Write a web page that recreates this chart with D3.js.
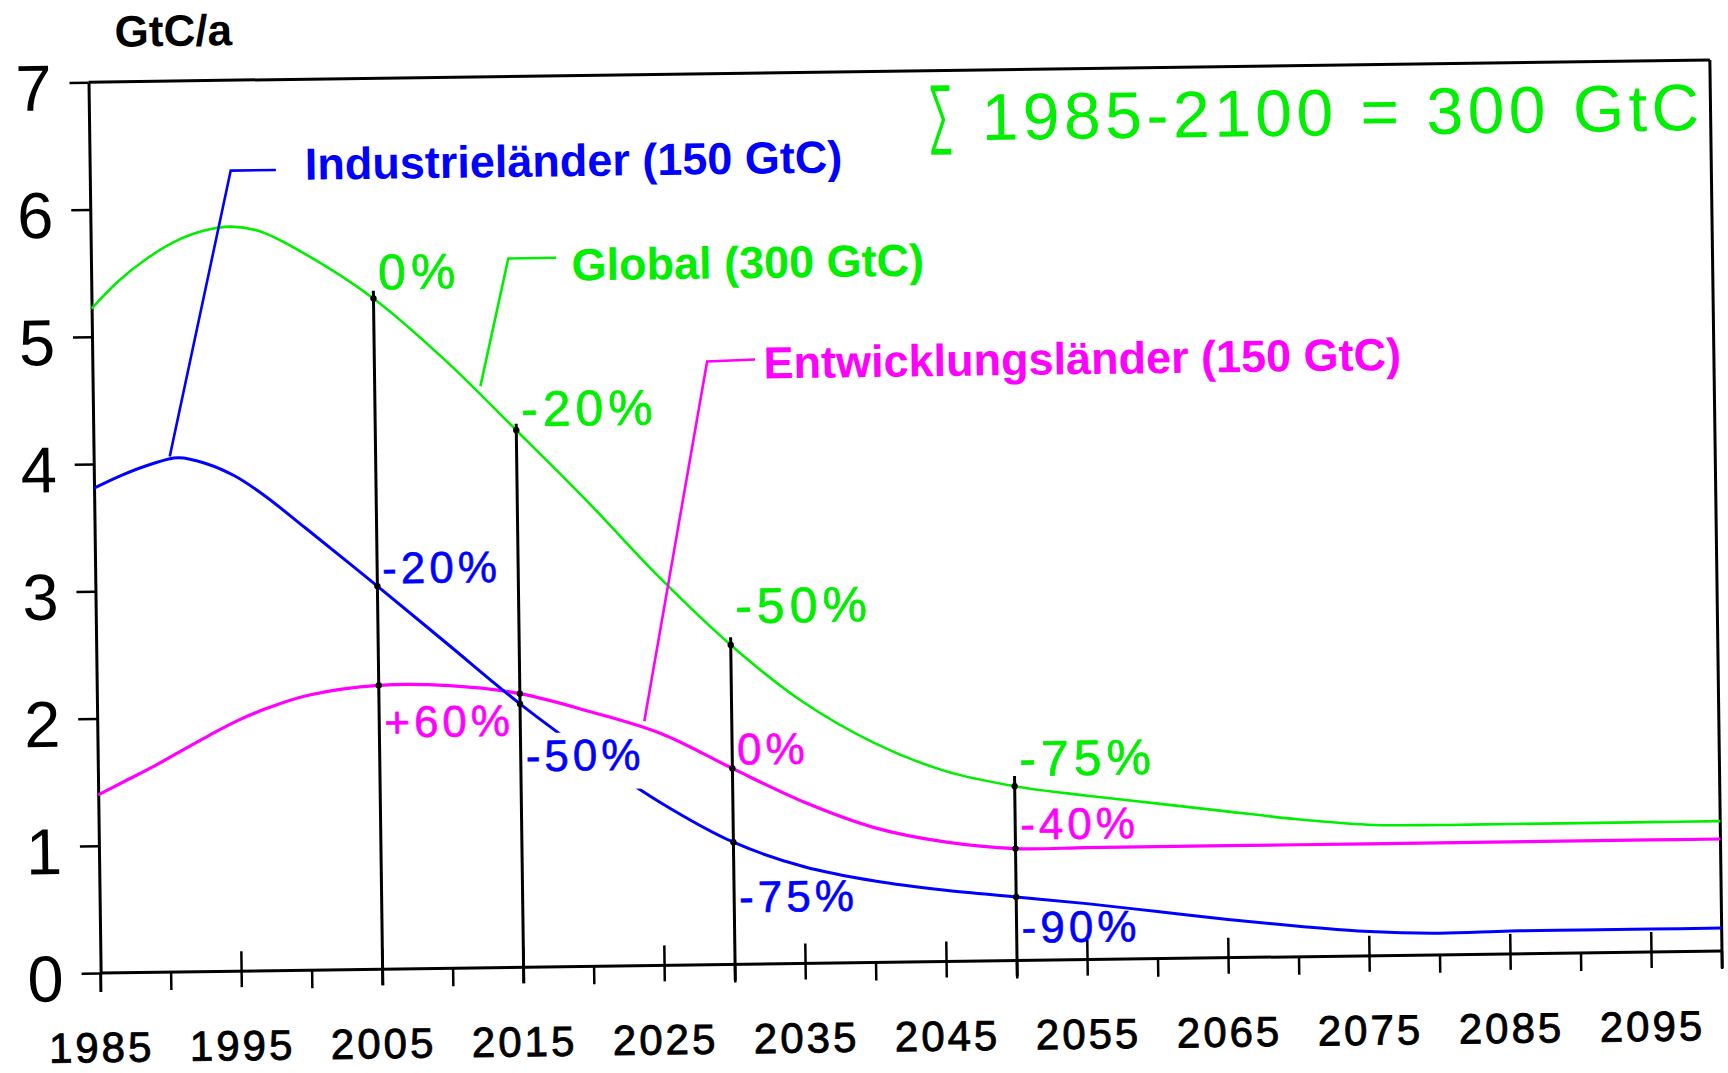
<!DOCTYPE html>
<html><head><meta charset="utf-8">
<script src="https://cdn.jsdelivr.net/npm/d3@7"></script>
<style>html,body{margin:0;padding:0;background:#fff;} svg{display:block;}</style>
</head><body>
<svg id="chart" width="1728" height="1073"></svg>
<script>
// ---------------- data ----------------
const years = [1985, 1987, 1989, 1991, 1993, 1995, 1997, 2000, 2005, 2010, 2015, 2020, 2025, 2030, 2035, 2040, 2045, 2050, 2055, 2060, 2065, 2070, 2075, 2080, 2085, 2090, 2095, 2100];
const globalValues     = [5.22, 5.44, 5.61, 5.74, 5.82, 5.85, 5.81, 5.64, 5.27, 4.78, 4.22, 3.65, 3.05, 2.51, 2.06, 1.73, 1.50, 1.37, 1.29, 1.22, 1.15, 1.08, 1.03, 1.02, 1.02, 1.02, 1.02, 1.02];
const industrialValues = [3.81, 3.91, 3.99, 4.04, 3.99, 3.89, 3.74, 3.47, 3.01, 2.54, 2.07, 1.65, 1.27, 0.96, 0.76, 0.64, 0.56, 0.50, 0.44, 0.37, 0.30, 0.24, 0.19, 0.17, 0.18, 0.18, 0.18, 0.18];
const developingValues = [1.40, 1.51, 1.62, 1.74, 1.86, 1.97, 2.06, 2.16, 2.23, 2.22, 2.15, 2.00, 1.82, 1.54, 1.27, 1.06, 0.94, 0.88, 0.88, 0.88, 0.88, 0.88, 0.88, 0.88, 0.88, 0.88, 0.88, 0.88];

const yTicks = [0, 1, 2, 3, 4, 5, 6, 7];
const xLabelYears = [1985, 1995, 2005, 2015, 2025, 2035, 2045, 2055, 2065, 2075, 2085, 2095];
const xMinorYears = [1990, 2000, 2010, 2020, 2030, 2040, 2050, 2060, 2070, 2080, 2090, 2100];

const milestoneYears = [2005, 2015, 2030, 2050];
const milestoneTops  = [5.33, 4.27, 2.57, 1.45];

const globalPctLabels = ["0%", "-20%", "-50%", "-75%"];
const globalPctValues = [5.34, 4.25, 2.68, 1.45];
const industrialPctLabels = ["-20%", "-50%", "-75%", "-90%"];
const industrialPctValues = [3.03, 1.54, 0.41, 0.14];
const developingPctYears  = [2005, 2030, 2050];
const developingPctLabels = ["+60%", "0%", "-40%"];
const developingPctValues = [1.82, 1.57, 0.95];

const seriesNames = ["Industrieländer (150 GtC)", "Global (300 GtC)", "Entwicklungsländer (150 GtC)"];
const seriesNameYears  = [2000.26, 2019.08, 2032.6];
const seriesNameValues = [6.21, 5.39, 4.60];
const leaderIndustrial = [[1990.4, 4.05], [1995.0, 6.29], [1998.2, 6.29]];
const leaderGlobal     = [[2012.5, 4.57], [2014.6, 5.57], [2018.0, 5.57]];
const leaderDeveloping = [[2023.8, 1.92], [2028.6, 4.74], [2032.0, 4.75]];

const unitLabel = "GtC/a";
const unitLabelPos = [1986.9, 7.275];
const sumText = "1985-2100 = 300 GtC";
const sumTextPos = [2048.3, 6.45];
const sumSignPos = [2045.4, 6.68];

// ---------------- layout ----------------
const GREEN = "#00ee00", BLUE = "#0000ff", PINK = "#ff00ff";
const plotLeft = 94.5, plotRight = 1716, plotTop = 71, plotBottom = 962;
const FONT = "'Liberation Sans', Arial, sans-serif";

const x = d3.scaleLinear().domain([1985, 2100]).range([plotLeft, plotRight]);
const y = d3.scaleLinear().domain([0, 7]).range([plotBottom, plotTop]);

const svg = d3.select("#chart");
const g = svg.append("g").attr("transform", "rotate(-0.78,910,517)");

// frame
g.append("line").attr("x1", x(1985)).attr("x2", x(2100)).attr("y1", y(0)).attr("y2", y(0))
  .attr("stroke", "#000").attr("stroke-width", 3);
g.append("line").attr("x1", x(1985)).attr("x2", x(2100)).attr("y1", y(7)).attr("y2", y(7))
  .attr("stroke", "#000").attr("stroke-width", 3);
g.append("line").attr("x1", x(2100)).attr("x2", x(2100)).attr("y1", y(7)).attr("y2", y(0) + 17)
  .attr("stroke", "#000").attr("stroke-width", 3);

// y axis
const yAxis = d3.axisLeft(y).tickValues(yTicks).tickSize(19).tickPadding(18).tickSizeOuter(0)
  .tickFormat(d3.format("d"));
const ya = g.append("g").attr("transform", `translate(${plotLeft},0)`).call(yAxis);
ya.select(".domain").attr("stroke", "#000").attr("stroke-width", 3);
ya.selectAll(".tick line").attr("stroke", "#000").attr("stroke-width", 2.5);
ya.selectAll(".tick text").attr("fill", "#000").attr("dy", "0.42em")
  .style("font-family", FONT).style("font-size", "65px");
g.append("line").attr("x1", plotLeft).attr("x2", plotLeft).attr("y1", y(0)).attr("y2", y(0) + 19)
  .attr("stroke", "#000").attr("stroke-width", 3);

// x ticks
g.selectAll(".xmaj").data(xLabelYears.slice(1)).join("line")
  .attr("x1", d => x(d)).attr("x2", d => x(d)).attr("y1", y(0) - 20).attr("y2", y(0) + 16)
  .attr("stroke", "#000").attr("stroke-width", 2.5);
g.selectAll(".xmin").data(xMinorYears).join("line")
  .attr("x1", d => x(d)).attr("x2", d => x(d)).attr("y1", y(0)).attr("y2", y(0) + 18)
  .attr("stroke", "#000").attr("stroke-width", 2.5);
g.selectAll(".xlab").data(xLabelYears).join("text")
  .attr("x", d => x(d)).attr("y", y(0) + 89).attr("text-anchor", "middle")
  .style("font-family", FONT).style("font-size", "42px")
  .style("letter-spacing", "3px").attr("fill", "#000")
  .attr("stroke", "#000").attr("stroke-width", 0.9).text(d => d);

// milestone vertical lines
g.selectAll(".mline").data(milestoneYears).join("line")
  .attr("x1", d => x(d)).attr("x2", d => x(d))
  .attr("y1", (d, i) => y(milestoneTops[i])).attr("y2", y(0) + 16)
  .attr("stroke", "#000").attr("stroke-width", 3);

// curves
const line = d3.line().x(d => x(d[0])).y(d => y(d[1])).curve(d3.curveCatmullRom.alpha(0.5));
const series = [
  {vals: developingValues, color: PINK, w: 3.2},
  {vals: industrialValues, color: BLUE, w: 3},
  {vals: globalValues, color: GREEN, w: 2.6}
];
series.forEach(s => {
  g.append("path").datum(years.map((yr, i) => [yr, s.vals[i]]))
    .attr("d", line).attr("fill", "none").attr("stroke", s.color).attr("stroke-width", s.w);
});

// dots at milestone crossings
[globalValues, industrialValues, developingValues].forEach(vals => {
  g.selectAll(null).data(milestoneYears).join("circle")
    .attr("cx", d => x(d)).attr("cy", d => y(vals[years.indexOf(d)])).attr("r", 3.2).attr("fill", "#000");
});

// leader lines
const leader = d3.line().x(d => x(d[0])).y(d => y(d[1]));
[[leaderIndustrial, BLUE], [leaderGlobal, GREEN], [leaderDeveloping, PINK]].forEach(([pts, c]) => {
  g.append("path").attr("d", leader(pts)).attr("fill", "none").attr("stroke", c).attr("stroke-width", 2.6);
});

// series names
const nameColors = [BLUE, GREEN, PINK];
g.selectAll(".sname").data(seriesNames).join("text")
  .attr("x", (d, i) => x(seriesNameYears[i])).attr("y", (d, i) => y(seriesNameValues[i]))
  .attr("fill", (d, i) => nameColors[i])
  .style("font-family", FONT).style("font-size", "45px")
  .style("font-weight", "bold").text(d => d);

// percentage labels
function pctLabels(yrs, labels, vals, color, size, spacing, knockout) {
  yrs.forEach((yr, i) => {
    const t = g.append("text").attr("x", x(yr) + 5).attr("y", y(vals[i]))
      .attr("fill", color).attr("stroke", color).attr("stroke-width", 0.6)
      .style("font-family", FONT).style("font-size", size + "px")
      .style("letter-spacing", spacing + "px").text(labels[i]);
    if (knockout && knockout[i]) {
      const bb = t.node().getBBox();
      g.insert("rect", () => t.node()).attr("x", bb.x - 2).attr("y", bb.y + 2)
        .attr("width", bb.width + 4).attr("height", bb.height + 8).attr("fill", "#fff");
    }
  });
}
pctLabels(milestoneYears, globalPctLabels, globalPctValues, GREEN, 50, 5);
pctLabels(milestoneYears, industrialPctLabels, industrialPctValues, BLUE, 44, 4, [false, true, false, false]);
pctLabels(developingPctYears, developingPctLabels, developingPctValues, PINK, 44, 4);

// unit label
g.append("text").attr("x", x(unitLabelPos[0])).attr("y", y(unitLabelPos[1]))
  .style("font-family", FONT).style("font-size", "44px")
  .style("font-weight", "bold").attr("fill", "#000").text(unitLabel);

// sum annotation
g.append("text").attr("x", x(sumTextPos[0])).attr("y", y(sumTextPos[1]))
  .attr("fill", GREEN).style("font-family", FONT)
  .style("font-size", "66px").style("letter-spacing", "4.5px").text(sumText);
g.append("text")
  .attr("transform", `translate(${x(sumSignPos[0])},${y(sumSignPos[1])}) scale(0.5,1.1)`)
  .attr("text-anchor", "middle").attr("dominant-baseline", "central")
  .attr("fill", GREEN).style("font-family", "'DejaVu Sans', sans-serif")
  .style("font-size", "70px").style("font-weight", "200").text("∑");
</script>
</body></html>
